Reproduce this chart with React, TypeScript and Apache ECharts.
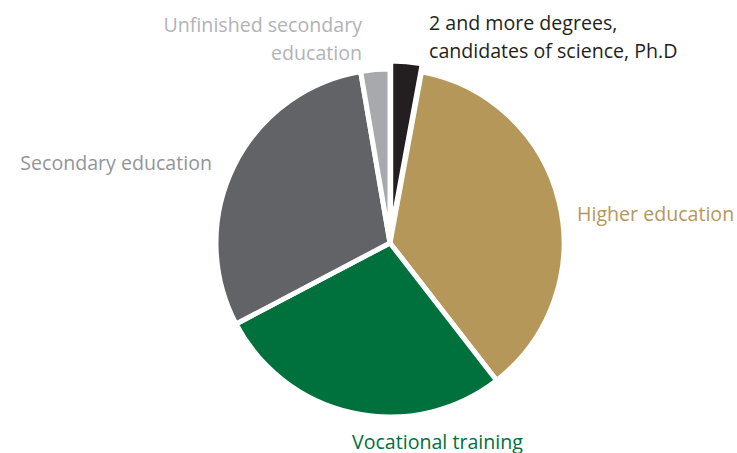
import React, { useEffect, useRef } from "react";
import * as echarts from "echarts";

const categories = [
  "2 and more degrees,\ncandidates of science, Ph.D",
  "Higher education",
  "Vocational training",
  "Secondary education",
  "Unfinished secondary\neducation",
];
const values = [2.9, 36.6, 27.8, 30.0, 2.7];
const colors = ["#231f20", "#b5975a", "#00703c", "#626366", "#a7a9ac"];
const labelColors = ["#231f20", "#b5975a", "#00703c", "#939598", "#b1b3b6"];

export default function App() {
  const ref = useRef<HTMLDivElement>(null);
  useEffect(() => {
    document.body.style.margin = "0";
    const chart = echarts.init(ref.current!, null, { renderer: "svg" });
    const labelPos: [number, number, string][] = [
      [429, 36, "left"],
      [577, 213, "left"],
      [352, 441, "left"],
      [212, 162, "right"],
      [362, 38, "right"],
    ];
    chart.setOption({
      animation: false,
      series: [
        {
          type: "pie",
          center: [390, 243],
          radius: [0, 174],
          startAngle: 90,
          clockwise: true,
          selectedMode: "single",
          selectedOffset: 8,
          emphasis: { disabled: true },
          label: { show: false },
          labelLine: { show: false },
          itemStyle: { borderColor: "#ffffff", borderWidth: 5 },
          data: categories.map((c, i) => ({
            name: c,
            value: values[i],
            selected: i === 0,
            itemStyle: { color: colors[i] },
          })),
        },
      ],
      graphic: categories.map((c, i) => ({
        type: "text",
        x: labelPos[i][0],
        y: labelPos[i][1],
        style: {
          text: c,
          fill: labelColors[i],
          font: '19.6px "Open Sans"',
          align: labelPos[i][2],
          verticalAlign: "middle",
          lineHeight: 28,
        },
      })),
    });
    return () => chart.dispose();
  }, []);
  return <div ref={ref} style={{ width: 737, height: 453 }} />;
}
